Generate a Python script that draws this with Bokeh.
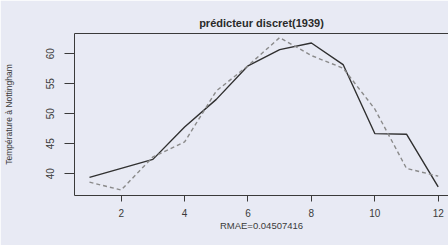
from bokeh.plotting import figure
from bokeh.models import Range1d, LinearAxis, FixedTicker
from bokeh.embed import file_html
from bokeh.resources import INLINE

months = list(range(1, 13))
observed = [39.4, 40.9, 42.4, 47.8, 52.4, 58.0, 60.7, 61.8, 58.2, 46.7, 46.6, 37.8]
predicted = [38.6, 37.3, 42.8, 45.3, 53.8, 58.0, 62.7, 59.7, 57.6, 50.8, 40.9, 39.6]
x_ticks = [2, 4, 6, 8, 10, 12]
y_ticks = [40, 45, 50, 55, 60]
title_text = "prédicteur discret(1939)"
x_label = "RMAE=0.04507416"
y_label = "Température à Nottingham"

BG = "#e8eaf4"
INK = "#3a3a3a"
FONT = "Liberation Sans"

p = figure(width=448, height=245, output_backend="svg", toolbar_location=None,
           x_range=Range1d(0.527, 12.325), y_range=Range1d(36.38, 63.38),
           min_border_left=74, min_border_right=0, min_border_top=33, min_border_bottom=50)
p.background_fill_color = BG
p.border_fill_color = BG
p.outline_line_color = None
p.xgrid.grid_line_color = None
p.ygrid.grid_line_color = None

p.title.text = title_text
p.title.align = "center"
p.title.text_font = FONT
p.title.text_font_style = "bold"
p.title.text_font_size = "11px"
p.title.text_color = "#2a2a2a"

p.line(months, observed, line_color="#303030", line_width=1.4)
p.line(months, predicted, line_color="#8a8a8a", line_width=1.4, line_dash="4 3")

for ax in (p.xaxis[0], p.yaxis[0]):
    ax.axis_line_color = INK
    ax.major_tick_line_color = INK
    ax.minor_tick_line_color = None
    ax.major_tick_in = 0
    ax.major_label_text_font = FONT
    ax.major_label_text_color = INK
    ax.major_label_text_font_size = "10px"
    ax.axis_label_text_font = FONT
    ax.axis_label_text_font_style = "normal"
    ax.axis_label_text_color = INK

p.xaxis[0].ticker = FixedTicker(ticks=x_ticks)
p.xaxis[0].major_tick_out = 6
p.xaxis[0].major_label_standoff = 7
p.xaxis[0].axis_label = x_label
p.xaxis[0].axis_label_text_font_size = "9.5px"
p.xaxis[0].axis_label_standoff = 0

p.yaxis[0].ticker = FixedTicker(ticks=y_ticks)
p.yaxis[0].major_tick_out = 10
p.yaxis[0].major_label_standoff = 10
p.yaxis[0].major_label_orientation = "vertical"
p.yaxis[0].axis_label = y_label
p.yaxis[0].axis_label_text_font_size = "8.5px"
p.yaxis[0].axis_label_standoff = 30

top = LinearAxis(ticker=FixedTicker(ticks=[]), major_label_text_font_size="0px",
                 axis_line_color=INK, major_tick_line_color=None, minor_tick_line_color=None,
                 major_tick_out=12, major_label_standoff=11)
p.add_layout(top, "above")

open("out.html", "w").write(file_html(p, INLINE))
